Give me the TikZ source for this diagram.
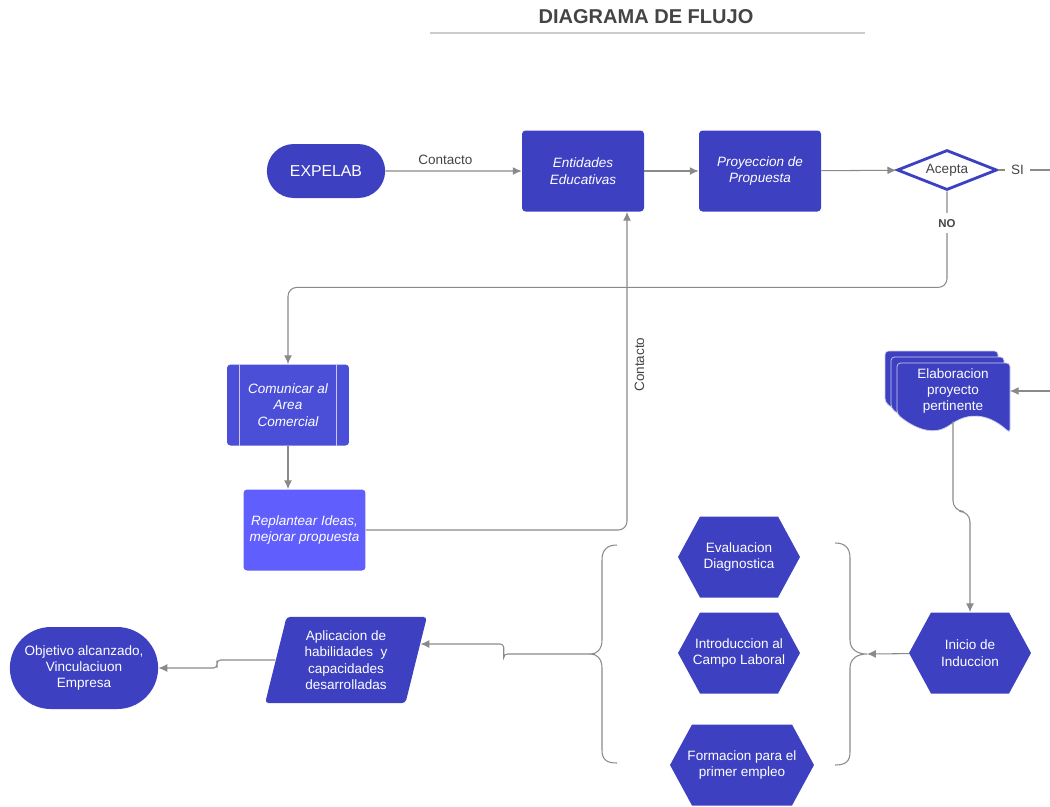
\documentclass[tikz,border=0pt]{standalone}
\usepackage{fontspec}
\setmainfont{Liberation Sans}
\usetikzlibrary{shapes,shapes.geometric,shapes.misc,shapes.symbols,arrows.meta,calc,positioning}

\definecolor{flowblue}{HTML}{3D40C1}
\definecolor{procblue}{HTML}{4B4FD7}
\definecolor{ideablue}{HTML}{615EFE}
\definecolor{linegray}{HTML}{8A8A8A}
\definecolor{labelgray}{HTML}{444444}

\begin{document}
\begin{tikzpicture}[
    x=0.02cm, y=-0.02cm,
    >={Latex[length=5pt,width=4.5pt]},
    every node/.style={font=\fontsize{7.7}{9.3}\selectfont, align=center},
    title/.style={font=\fontsize{11.4}{13}\selectfont\bfseries, text=labelgray},
    start/.style={rounded rectangle, fill=flowblue, text=white, minimum width=2.6cm, minimum height=1.08cm, font=\fontsize{9}{11}\selectfont},
    fin/.style={rounded rectangle, fill=flowblue, text=white, minimum width=3.2cm, minimum height=1.64cm},
    box/.style={rectangle, rounded corners=2pt, fill=flowblue, text=white, minimum width=2.44cm, minimum height=1.62cm, font=\fontsize{7.7}{9.3}\selectfont\itshape},
    proc/.style={box, fill=procblue},
    idea/.style={box, fill=ideablue},
    decision/.style={diamond, draw=flowblue, line width=1.6pt, fill=white, text=labelgray, minimum width=2.0cm, minimum height=0.8cm, inner sep=0pt, aspect=2.4},
    hexa/.style={signal, signal to=west and east, signal pointer angle=123, fill=flowblue, minimum width=2.44cm, minimum height=1.62cm, inner sep=0pt},
    hextext/.style={text=white},
    para/.style={trapezium, trapezium left angle=76, trapezium right angle=104, rounded corners=2pt, fill=flowblue, text=white, minimum width=3.26cm, minimum height=1.5cm, inner sep=1pt},
    docsheet/.style={fill=flowblue, draw=white!75!flowblue, line width=0.4pt, rounded corners=2pt},
    conn/.style={draw=linegray, line width=0.6pt},
    arr/.style={conn, ->},
    lbl/.style={text=labelgray}
    ]
    \useasboundingbox (0,0) rectangle (1050,806);

    % Titulo
    \node[title] (titulo) at (646,17) {DIAGRAMA DE FLUJO};
    \draw[gray!40, line width=0.8pt] (430,33) -- (865,33);

    % Fila superior
    \node[start] (expelab) at (326,171) {EXPELAB};
    \node[box] (ent) at (583,171) {Entidades\\Educativas};
    \node[box] (proy) at (760,171) {Proyeccion de\\Propuesta};
    \node[decision] (acepta) at (947,170) {Acepta};
    \coordinate (sifin) at (1050,170);

    % Rama NO
    \node[proc] (com) at (288,405) {Comunicar al\\Area\\Comercial};
    \draw[white!70!procblue, line width=0.5pt] ($(com.north west)+(13,0)$) -- ($(com.south west)+(13,0)$);
    \draw[white!70!procblue, line width=0.5pt] ($(com.north east)+(-13,0)$) -- ($(com.south east)+(-13,0)$);
    \node[idea] (rep) at (304.5,530) {Replantear Ideas,\\mejorar propuesta};

    % Documento multiple
    \filldraw[docsheet, shift={(-12,-12)}] (897,363) -- (1010,363) -- (1010,433) .. controls (985,410) and (965,415) .. (950,425) .. controls (930,437) and (910,425) .. (897,414) -- cycle;
    \filldraw[docsheet, shift={(-6,-6)}] (897,363) -- (1010,363) -- (1010,433) .. controls (985,410) and (965,415) .. (950,425) .. controls (930,437) and (910,425) .. (897,414) -- cycle;
    \filldraw[docsheet] (897,363) -- (1010,363) -- (1010,433) .. controls (985,410) and (965,415) .. (950,425) .. controls (930,437) and (910,425) .. (897,414) -- cycle;
    \node[text=white, minimum width=2.26cm, minimum height=1.2cm] (elab) at (953,391) {Elaboracion\\proyecto\\pertinente};
    \coordinate (elabin) at (1050,391);

    % Induccion
    \node[hexa, label={[hextext]center:{Inicio de\\Induccion}}] (inicio) at (970,653) {};
    \node[hexa, label={[hextext]center:{Evaluacion\\Diagnostica}}] (eval) at (739,557) {};
    \node[hexa, label={[hextext]center:{Introduccion al\\Campo Laboral}}] (intro) at (739,653) {};
    \node[hexa, minimum width=2.88cm, label={[hextext]center:{Formacion para el\\primer empleo}}] (form) at (742,765) {};

    % Llaves
    \coordinate (rtip) at (867,654);
    \coordinate (ltip) at (591,654);
    \draw[conn] (835,543) .. controls (845,543) and (850,548) .. (850,558) -- (850,640) .. controls (850,650) and (858,654) .. (rtip) .. controls (858,654) and (850,658) .. (850,668) -- (850,752) .. controls (850,762) and (845,765) .. (835,765);
    \draw[conn] (617,545) .. controls (607,545) and (602,550) .. (602,560) -- (602,640) .. controls (602,650) and (596,654) .. (ltip) .. controls (596,654) and (602,658) .. (602,668) -- (602,750) .. controls (602,760) and (607,763) .. (617,763);

    % Salida
    \node[para] (aplic) at (346,660) {Aplicacion de\\habilidades\ \ y\\capacidades\\desarrolladas};
    \node[fin] (obj) at (84,668) {Objetivo alcanzado,\\Vinculaciuon\\Empresa};

    % Conectores
    \draw[arr] (expelab) -- node[lbl, above, pos=0.44] {Contacto} (ent);
    \draw[arr] (ent) -- (proy);
    \draw[arr] (proy) -- (acepta);
    \draw[conn] (acepta) -- node[lbl, fill=white, pos=0.37] {SI} (sifin);
    \draw[arr, rounded corners=5pt] (acepta.south) -- node[lbl, fill=white, pos=0.33, font=\fontsize{6.5}{8}\selectfont\bfseries] {NO} ++(0,96) -| (com.north);
    \draw[arr] (com.south) -- (com.south |- rep.north);
    \draw[arr, rounded corners=5pt] (rep.east) -| node[lbl, rotate=90, anchor=north, pos=0.76, inner sep=4pt] {Contacto} ($(ent.south)+(44,0)$);
    \draw[arr] (elabin) -- (elab.east);
    \draw[arr, rounded corners=6pt] (elab.south) -- ++(0,90) -| (inicio.north);
    \draw[arr] (inicio) -- (rtip);
    \draw[arr, rounded corners=2pt] (ltip) -| ($(ltip)!0.5!(aplic.east)$) |- ($(aplic.east)+(4,-16)$);
    \draw[arr, rounded corners=2pt] (aplic.west) -| ($(aplic.west)!0.5!(obj.east)$) |- (obj.east);
\end{tikzpicture}
\end{document}
